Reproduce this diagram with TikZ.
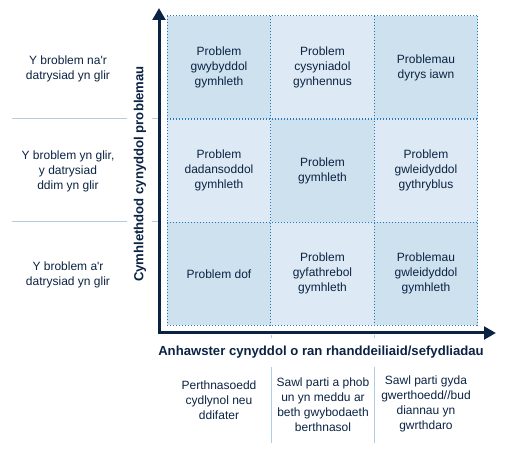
\documentclass[tikz,border=0pt]{standalone}
\usepackage{fontspec}
\setmainfont{Liberation Sans}[Ligatures=TeXOff]
\usetikzlibrary{positioning, arrows.meta}

\definecolor{navy}{RGB}{11,35,66}
\definecolor{dotblue}{RGB}{35,120,185}
\definecolor{cdark}{RGB}{205,225,239}
\definecolor{clight}{RGB}{221,234,245}
\definecolor{sepblue}{RGB}{175,205,228}

\begin{document}
\begin{tikzpicture}[
  x=0.75pt, y=-0.75pt,
  >={Triangle[length=9pt,width=9.5pt]},
  node distance=0pt,
  font=\fontsize{9}{11.25}\selectfont,
  text=navy
]
\tikzstyle{cell}=[minimum width=77.6pt, minimum height=77.4pt, inner sep=0pt, outer sep=0pt, align=center]
\tikzstyle{gridline}=[draw=dotblue, line width=0.9pt, dash pattern=on 0.9pt off 1.35pt]
\tikzstyle{sepline}=[draw=sepblue, line width=0.75pt]
\tikzstyle{axis}=[draw=navy, line width=2.25pt]
\tikzstyle{axislabel}=[font=\fontsize{9.85}{11.8}\selectfont\bfseries, inner sep=0pt]
\tikzstyle{sidelabel}=[align=center, inner sep=0pt]

\useasboundingbox (0,0) rectangle (512,452);

% ================= SEPARATORS =================
\draw[sepline] (12,119) -- (127,119) (152,119) -- (159,119);
\draw[sepline] (12,222) -- (127,222) (152,222) -- (159,222);
\draw[sepline] (271,335) -- (271,338) (271,367) -- (271,443);
\draw[sepline] (374,335) -- (374,338) (374,367) -- (374,443);

% ================= ROW 1 =================
\node[cell, fill=cdark]  (c11) at (219,67.5) {Problem\\gwybyddol\\gymhleth};
\node[cell, fill=clight] (c12) [right=of c11] {Problem\\cysyniadol\\gynhennus};
\node[cell, fill=cdark]  (c13) [right=of c12] {Problemau\\dyrys iawn};

% ================= ROW 2 =================
\node[cell, fill=clight] (c21) [below=of c11] {Problem\\dadansoddol\\gymhleth};
\node[cell, fill=cdark]  (c22) [right=of c21] {Problem\\gymhleth};
\node[cell, fill=clight] (c23) [right=of c22] {Problem\\gwleidyddol\\gythryblus};

% ================= ROW 3 =================
\node[cell, fill=cdark]  (c31) [below=of c21] {Problem dof};
\node[cell, fill=clight] (c32) [right=of c31] {Problem\\gyfathrebol\\gymhleth};
\node[cell, fill=cdark]  (c33) [right=of c32] {Problemau\\gwleidyddol\\gymhleth};

% ===== Dotted grid =====
\foreach \r in {1,2,3}
  \draw[gridline] (c\r1.north west) -- (c\r3.north east);
\draw[gridline] (c31.south west) -- (c33.south east);
\foreach \c in {1,2,3}
  \draw[gridline] (c1\c.north west) -- (c3\c.south west);
\draw[gridline] (c13.north east) -- (c33.south east);

% ================= AXES =================
\coordinate (O) at (159,333);
\coordinate (ytip) at (159,8);
\coordinate (xtip) at (496,333);
\draw[axis, <->, line join=miter] (ytip) -- (O) -- (xtip);

\node[axislabel, rotate=90] (ylab) at (140,174) {Cymhlethdod cynyddol problemau};
\node[axislabel] (xlab) at (321,352) {Anhawster cynyddol o ran rhanddeiliaid/sefydliadau};

% ================= ROW LABELS =================
\node[sidelabel] (r1) at (68,69)    {Y broblem na'r\\datrysiad yn glir};
\node[sidelabel] (r2) at (68,171)   {Y broblem yn glir,\\y datrysiad\\ddim yn glir};
\node[sidelabel] (r3) at (68,274.5) {Y broblem a'r\\datrysiad yn glir};

% ================= COLUMN LABELS =================
\node[sidelabel] (k1) at (219,400) {Perthnasoedd\\cydlynol neu\\ddifater};
\node[sidelabel] (k2) at (323,405) {Sawl parti a phob\\un yn meddu ar\\beth gwybodaeth\\berthnasol};
\node[sidelabel] (k3) at (426,404) {Sawl parti gyda\\gwerthoedd//bud\\diannau yn\\gwrthdaro};
\end{tikzpicture}
\end{document}
